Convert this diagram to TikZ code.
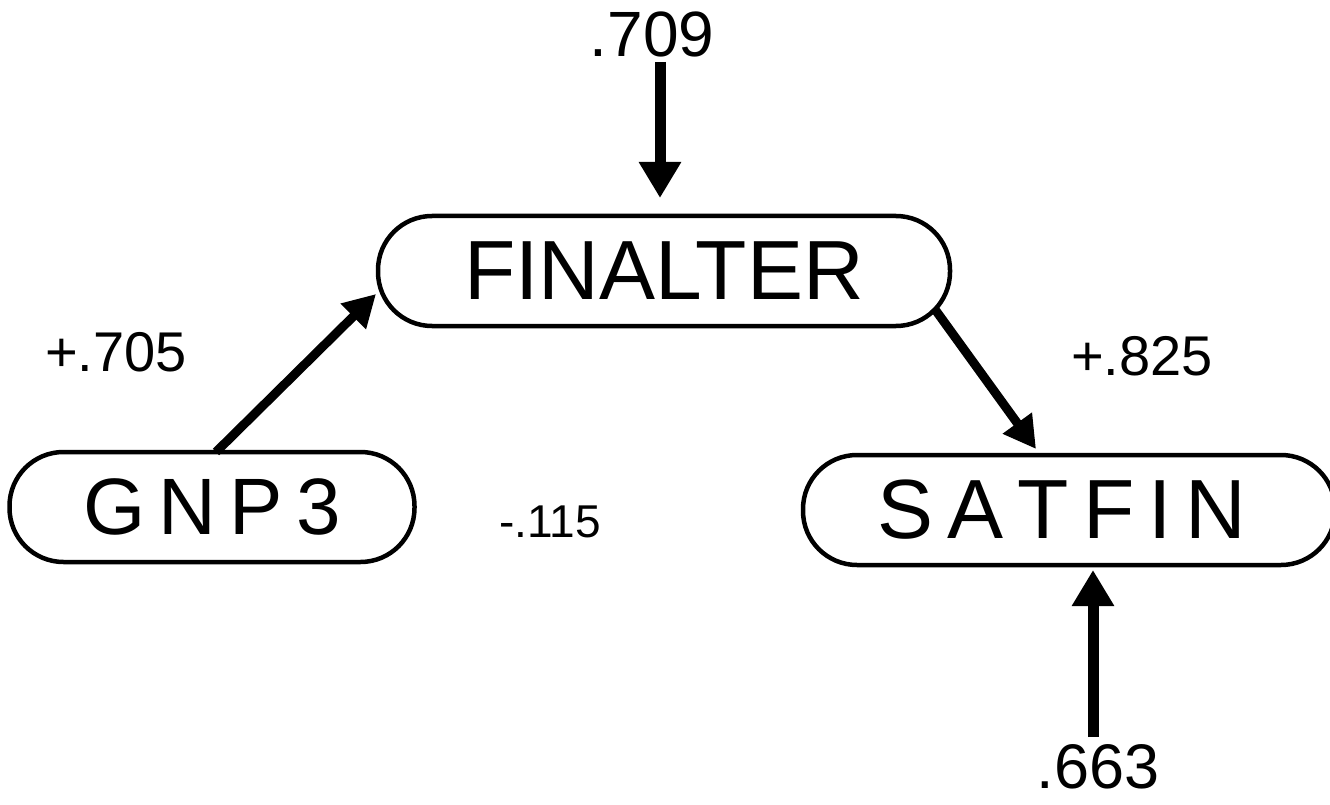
\documentclass[tikz,border=0pt]{standalone}
\usepackage{fontspec}
\setmainfont{Liberation Sans}
\usetikzlibrary{arrows.meta}
\tikzset{
  var/.style={draw, line width=4.5pt, rounded corners=54pt, inner sep=0pt,
              minimum height=110pt, font=\fontsize{84}{84}\selectfont},
  coef/.style={inner sep=0pt, anchor=center},
  bigarrow/.style={line width=11pt, -{Triangle[length=36pt,width=40pt]}},
  diagarrow/.style={line width=9pt, -{Triangle[length=32pt,width=34pt]}}
}
\begin{document}
\begin{tikzpicture}[x=1pt,y=-1pt]
  \useasboundingbox (0,0) rectangle (1330,805);

  % variables
  \node[var, minimum width=572pt] (fin) at (664,271) {FINALTER};
  \node[var, minimum width=405pt, font=\fontsize{80}{80}\selectfont] (gnp) at (212,507) {G\,N\,P\,3};
  \node[var, minimum width=532pt] (sat) at (1069,510) {\hspace*{-14pt}S\,A\,T\,F\,I\,N};

  % coefficients
  \node[coef, font=\fontsize{64}{64}\selectfont] (c709) at (652,34) {.709};
  \node[coef, font=\fontsize{63}{63}\selectfont] (c663) at (1098,767) {.663};
  \node[coef, font=\fontsize{56}{56}\selectfont] (c705) at (116,352) {+.705};
  \node[coef, font=\fontsize{56}{56}\selectfont] (c825) at (1142,356) {+.825};
  \node[coef, font=\fontsize{46}{46}\selectfont] (c115) at (550,522) {-.115};

  % arrow end points
  \coordinate (s709) at (660,62);
  \coordinate (e709) at (660,198);
  \coordinate (s663) at (1093,737);
  \coordinate (e663) at (1093,570);
  \coordinate (sg) at (216,452);
  \coordinate (eg) at (376,294);
  \coordinate (sf) at (934,308);
  \coordinate (ef) at (1036,449);

  % paths
  \draw[bigarrow] (s709) -- (e709);
  \draw[bigarrow] (s663) -- (e663);
  \draw[diagarrow] (sg) -- (eg);
  \draw[diagarrow] (sf) -- (ef);
\end{tikzpicture}
\end{document}
